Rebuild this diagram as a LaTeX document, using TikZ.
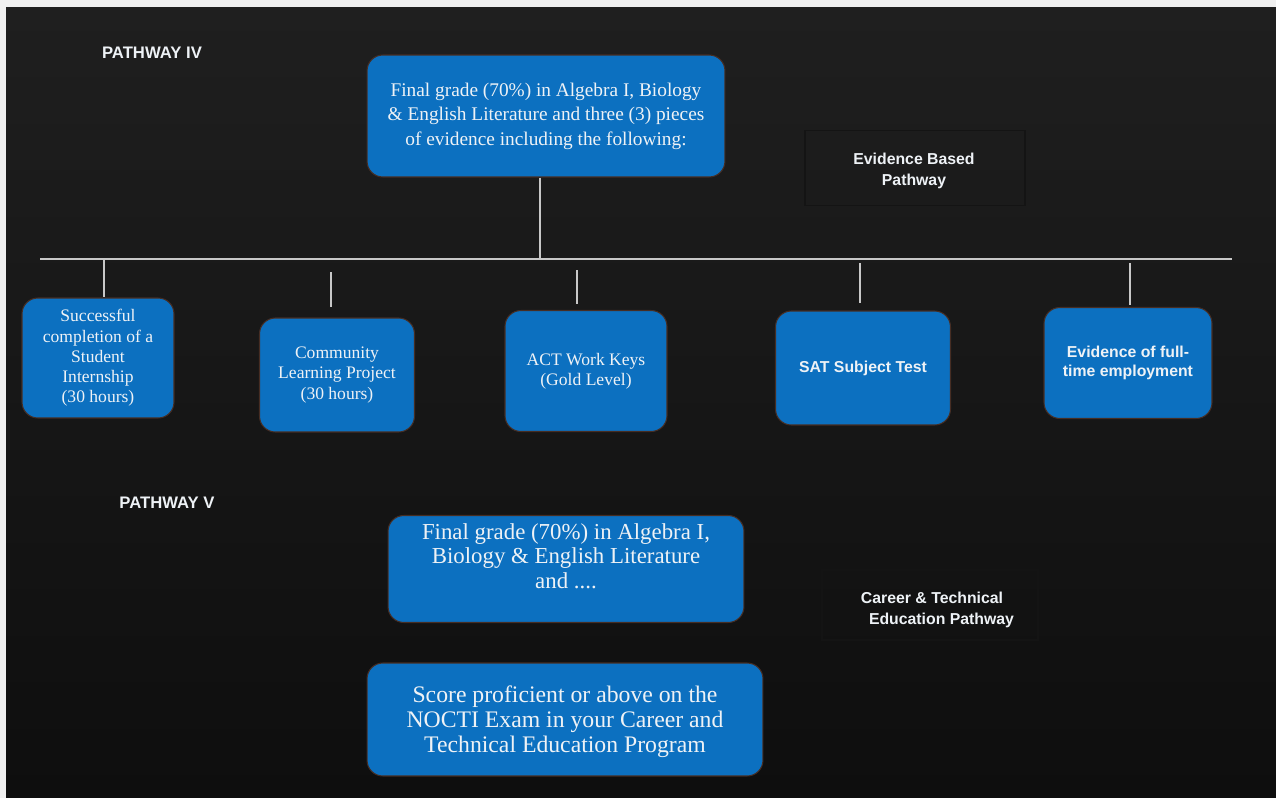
\documentclass[tikz,border=0pt]{standalone}
\usepackage{fontspec}
\setmainfont{Liberation Serif}
\setsansfont{Liberation Sans}
\usepackage{tikz}
\usetikzlibrary{calc,shapes}

\definecolor{boxblue}{RGB}{12,112,192}
\definecolor{boxrim}{RGB}{70,45,35}
\definecolor{bgtop}{RGB}{31,31,31}
\definecolor{bgbot}{RGB}{14,14,14}
\definecolor{txtwhite}{RGB}{238,242,246}
\definecolor{linegray}{RGB}{200,200,200}

\begin{document}
\begin{tikzpicture}[x=0.02cm,y=-0.02cm,
    bluebox/.style={draw=boxrim,line width=0.6pt,fill=boxblue,rounded corners=9pt,
        text=txtwhite,align=center,inner sep=2pt},
    boxtext/.style={text=txtwhite,align=center,inner sep=0pt},
    tagbox/.style={draw=black!92!white,line width=0.6pt,text=txtwhite,align=center,
        font=\sffamily\bfseries\fontsize{9}{11.5}\selectfont},
    title/.style={text=txtwhite,font=\sffamily\bfseries\fontsize{9.5}{11}\selectfont},
    link/.style={draw=linegray,line width=0.7pt}]
    % background
    \fill[gray!12] (0,0) rectangle (1276,798);
    \shade[top color=bgtop,bottom color=bgbot] (6,7) rectangle (1276,798);
    \useasboundingbox (0,0) rectangle (1276,798);

    % pathway IV
    \node[title] (p4) at (152,53) {PATHWAY IV};
    \node[bluebox,minimum width=7.16cm,minimum height=2.44cm,
        font=\fontsize{11}{14}\selectfont] (top) at (546,116)
        {Final grade (70\%) in Algebra I, Biology\\ \& English Literature and three (3) pieces\\ of evidence including the following:};
    \node[tagbox,minimum width=4.4cm,minimum height=1.5cm] (ebp) at (915,168) {};
    \node[boxtext,font=\sffamily\bfseries\fontsize{9}{11.5}\selectfont] (ebpt) at (914,171)
        {Evidence Based\\ Pathway};

    \coordinate (hl) at (40,259);
    \coordinate (hr) at (1232,259);
    \coordinate (hm) at (540,259);
    \draw[link] (hl) -- (hr);
    \draw[link] (top.south -| hm) -- (hm);

    \node[bluebox,minimum width=3.04cm,minimum height=2.4cm,
        font=\fontsize{10}{11.5}\selectfont] (e1) at (98,358)
        {Successful\\ completion of a\\ Student\\ Internship\\ (30 hours)};
    \node[bluebox,minimum width=3.1cm,minimum height=2.28cm,
        font=\fontsize{10}{11.5}\selectfont] (e2) at (337,375)
        {Community\\ Learning Project\\ (30 hours)};
    \node[bluebox,minimum width=3.24cm,minimum height=2.42cm,
        font=\fontsize{10}{11.5}\selectfont] (e3) at (586,371)
        {ACT Work Keys\\ (Gold Level)};
    \node[bluebox,minimum width=3.5cm,minimum height=2.28cm,
        font=\sffamily\bfseries\fontsize{9}{11}\selectfont] (e4) at (863,368)
        {SAT Subject Test};
    \node[bluebox,minimum width=3.36cm,minimum height=2.22cm,
        font=\sffamily\bfseries\fontsize{9}{11}\selectfont] (e5) at (1128,363)
        {Evidence of full-\\ time employment};

    % drops from the bar
    \coordinate (d1) at (104,259);
    \coordinate (d2) at (331,272);
    \coordinate (d2b) at (331,307);
    \coordinate (d3) at (577,270);
    \coordinate (d3b) at (577,304);
    \coordinate (d4) at (860,263);
    \coordinate (d4b) at (860,303);
    \coordinate (d5) at (1130,263);
    \coordinate (d5b) at (1130,305);
    \draw[link] (d1) -- (e1.north -| d1);
    \draw[link] (d2) -- (d2b);
    \draw[link] (d3) -- (d3b);
    \draw[link] (d4) -- (d4b);
    \draw[link] (d5) -- (d5b);

    % pathway V
    \node[title] (p5) at (167,503) {PATHWAY V};
    \node[bluebox,minimum width=7.12cm,minimum height=2.14cm] (v1) at (566,569) {};
    \node[boxtext,font=\fontsize{13}{13.8}\selectfont] (v1t) at (566,556)
        {Final grade (70\%) in Algebra I,\\ Biology \& English Literature\\ and ....};
    \node[bluebox,minimum width=7.92cm,minimum height=2.26cm] (v2) at (565,719.5) {};
    \node[boxtext,font=\fontsize{13.5}{14.3}\selectfont] (v2t) at (565,722)
        {Score proficient or above on the\\ NOCTI Exam in your Career and\\ Technical Education Program};
    \node[tagbox,minimum width=4.32cm,minimum height=1.4cm] (cte) at (930,605) {};
    \node[boxtext,font=\sffamily\bfseries\fontsize{9}{12}\selectfont] (ctet) at (932,610)
        {Career \& Technical\\ \hspace*{1.2em}Education Pathway};
\end{tikzpicture}
\end{document}
